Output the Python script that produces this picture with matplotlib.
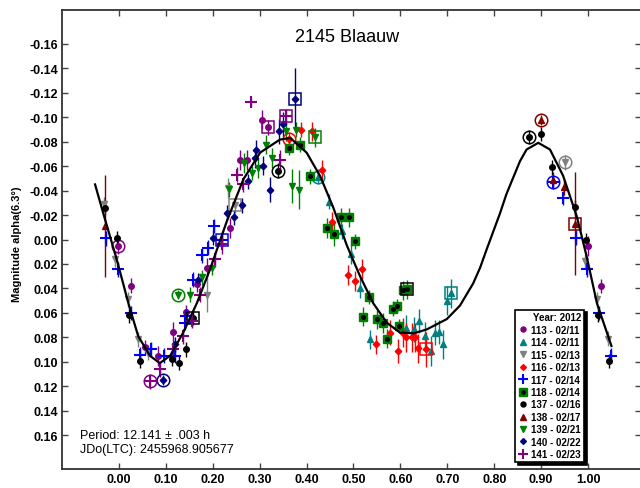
import matplotlib
matplotlib.use("Agg")
import matplotlib.pyplot as plt
from matplotlib.lines import Line2D

plt.rcParams['font.family'] = ['Liberation Sans', 'DejaVu Sans']
plt.rcParams['axes.unicode_minus'] = False

# fitted lightcurve
curve_phase = [-0.051, -0.034, -0.005, 0.020, 0.041, 0.066, 0.087, 0.109, 0.137, 0.166,
               0.194, 0.230, 0.265, 0.301, 0.343, 0.365, 0.400, 0.429, 0.457, 0.486,
               0.514, 0.542, 0.571, 0.599, 0.628, 0.656, 0.699, 0.727, 0.755, 0.770,
               0.784, 0.812, 0.826, 0.841, 0.855, 0.869, 0.894, 0.919, 0.947, 0.976,
               0.997, 1.019, 1.050]
curve_mag = [-0.045, -0.022, 0.016, 0.052, 0.079, 0.095, 0.101, 0.095, 0.076, 0.052,
             0.0245, -0.015, -0.049, -0.071, -0.0816, -0.083, -0.071, -0.0517, -0.026, 0.005,
             0.030, 0.052, 0.068, 0.076, 0.0767, 0.0735, 0.065, 0.054, 0.036, 0.023,
             0.008, -0.021, -0.037, -0.051, -0.064, -0.0735, -0.079, -0.0735, -0.052, -0.019,
             0.0136, 0.052, 0.087]

# sessions: (phase, mag, error, highlight) ; highlight 'o' = ringed, 's' = boxed
s113 = [(-0.0015, 0.0055, 0.006, 'o'), (0.025, 0.0376, 0.006, ''), (0.055, 0.088, 0.006, ''),
        (0.084, 0.095, 0.008, ''), (0.116, 0.0757, 0.008, ''), (0.142, 0.0593, 0.006, ''),
        (0.166, 0.0367, 0.006, ''), (0.187, 0.023, 0.008, ''), (0.2367, -0.0095, 0.008, ''),
        (0.258, -0.065, 0.008, ''), (0.272, -0.065, 0.008, ''), (0.304, -0.098, 0.008, ''),
        (0.318, -0.0917, 0.006, 's'), (1.0006, 0.0054, 0.008, ''), (1.027, 0.038, 0.006, '')]
s114 = [(0.425, -0.0512, 0.006, 'o'), (0.4485, -0.031, 0.006, ''), (0.4748, -0.0068, 0.006, ''),
        (0.494, 0.012, 0.008, ''), (0.514, 0.0394, 0.008, ''), (0.535, 0.0816, 0.008, ''),
        (0.613, 0.072, 0.010, ''), (0.628, 0.0735, 0.010, ''), (0.640, 0.0667, 0.010, ''),
        (0.652, 0.079, 0.012, ''), (0.665, 0.091, 0.012, ''), (0.674, 0.076, 0.010, ''),
        (0.683, 0.0754, 0.010, ''), (0.690, 0.0857, 0.012, ''), (0.6985, 0.050, 0.012, ''),
        (0.707, 0.044, 0.012, 's')]
s115 = [(-0.033, -0.0286, 0.006, ''), (-0.0085, 0.0163, 0.006, ''), (0.020, 0.049, 0.006, ''),
        (0.041, 0.0816, 0.006, ''), (0.0625, 0.0925, 0.006, ''), (0.187, 0.045, 0.014, ''),
        (0.233, -0.042, 0.008, ''), (0.247, -0.028, 0.006, 's'), (0.951, -0.063, 0.006, 'o'),
        (0.9936, 0.0177, 0.006, ''), (1.0186, 0.049, 0.006, ''), (1.0433, 0.081, 0.006, '')]
s116 = [(0.363, -0.0822, 0.006, 'o'), (0.388, -0.0898, 0.006, ''), (0.412, -0.0884, 0.008, ''),
        (0.4335, -0.057, 0.008, ''), (0.4535, -0.0144, 0.008, ''), (0.489, 0.029, 0.008, ''),
        (0.503, 0.034, 0.008, ''), (0.5174, 0.024, 0.008, ''), (0.549, 0.0857, 0.008, ''),
        (0.578, 0.076, 0.010, ''), (0.594, 0.091, 0.010, ''), (0.606, 0.076, 0.012, ''),
        (0.613, 0.080, 0.012, ''), (0.624, 0.080, 0.012, ''), (0.631, 0.080, 0.012, ''),
        (0.638, 0.089, 0.012, ''), (0.6546, 0.0898, 0.014, 's')]
s117 = [(-0.028, -0.001, 0.006, ''), (-0.0015, 0.0245, 0.006, ''), (0.0256, 0.060, 0.006, ''),
        (0.045, 0.094, 0.006, ''), (0.0676, 0.0898, 0.006, ''), (0.096, 0.095, 0.006, ''),
        (0.119, 0.095, 0.006, ''), (0.1407, 0.068, 0.006, ''), (0.143, 0.0626, 0.006, ''),
        (0.1585, 0.0327, 0.006, ''), (0.176, 0.013, 0.006, ''), (0.190, 0.0068, 0.006, ''),
        (0.2026, -0.011, 0.006, ''), (0.219, 0.000, 0.006, 's'), (0.9247, -0.047, 0.006, 'o'),
        (0.947, -0.034, 0.006, ''), (0.9738, -0.0014, 0.006, ''), (0.9985, 0.0245, 0.006, ''),
        (1.0235, 0.060, 0.006, ''), (1.048, 0.095, 0.006, '')]
s118 = [(0.363, -0.0749, 0.006, ''), (0.387, -0.0776, 0.006, ''), (0.407, -0.0517, 0.006, ''),
        (0.4428, -0.0095, 0.008, ''), (0.4584, -0.0046, 0.010, ''), (0.4727, -0.018, 0.008, ''),
        (0.4904, -0.018, 0.008, ''), (0.503, 0.0014, 0.006, ''), (0.5196, 0.063, 0.008, ''),
        (0.5338, 0.047, 0.006, ''), (0.5508, 0.0653, 0.008, ''), (0.562, 0.068, 0.008, ''),
        (0.572, 0.081, 0.008, ''), (0.5834, 0.0566, 0.006, ''), (0.592, 0.0544, 0.006, ''),
        (0.5977, 0.0707, 0.006, ''), (0.606, 0.0416, 0.008, ''), (0.6147, 0.0408, 0.008, 's')]
s137 = [(-0.030, -0.026, 0.006, ''), (-0.005, -0.001, 0.006, ''), (0.022, 0.062, 0.006, ''),
        (0.045, 0.099, 0.006, ''), (0.112, 0.0974, 0.006, ''), (0.128, 0.1007, 0.006, ''),
        (0.142, 0.0898, 0.006, ''), (0.1585, 0.064, 0.006, 's'), (0.3397, -0.0563, 0.006, 'o'),
        (0.875, -0.0838, 0.006, 'o'), (0.899, -0.0863, 0.006, ''), (0.9226, -0.059, 0.006, ''),
        (0.972, -0.0264, 0.006, ''), (0.9957, 0.0006, 0.006, ''), (1.0206, 0.0615, 0.006, ''),
        (1.0448, 0.0993, 0.006, '')]
s138 = [(-0.030, -0.011, 0.042, ''), (0.899, -0.0974, 0.004, 'o'), (0.9247, -0.049, 0.006, ''),
        (0.9488, -0.0427, 0.006, ''), (0.972, -0.0128, 0.042, 's')]
s139 = [(0.1265, 0.045, 0.004, 'o'), (0.151, 0.045, 0.006, ''), (0.176, 0.031, 0.006, ''),
        (0.1975, 0.023, 0.006, ''), (0.235, -0.041, 0.006, ''), (0.267, -0.0626, 0.008, ''),
        (0.283, -0.0544, 0.006, ''), (0.297, -0.0585, 0.008, ''), (0.313, -0.0776, 0.008, ''),
        (0.3256, -0.0667, 0.008, ''), (0.356, -0.0884, 0.008, ''), (0.368, -0.0435, 0.014, ''),
        (0.377, -0.0898, 0.006, ''), (0.3845, -0.0408, 0.016, ''), (0.418, -0.0835, 0.008, 's')]
s140 = [(0.0945, 0.115, 0.004, 'o'), (0.119, 0.0857, 0.006, ''), (0.168, 0.033, 0.006, ''),
        (0.201, -0.0014, 0.006, ''), (0.2296, -0.022, 0.006, ''), (0.246, -0.018, 0.006, ''),
        (0.2616, -0.028, 0.006, ''), (0.276, -0.0476, 0.006, ''), (0.290, -0.0667, 0.008, ''),
        (0.2915, -0.0735, 0.008, ''), (0.3077, -0.0604, 0.008, ''), (0.322, -0.0408, 0.010, ''),
        (0.341, -0.0884, 0.010, ''), (0.349, -0.094, 0.010, ''), (0.375, -0.1149, 0.025, 's')]
s141 = [(0.066, 0.116, 0.006, 'o'), (0.087, 0.106, 0.006, ''), (0.116, 0.0898, 0.006, ''),
        (0.137, 0.079, 0.006, ''), (0.155, 0.0667, 0.006, ''), (0.173, 0.045, 0.006, ''),
        (0.2047, 0.0163, 0.006, ''), (0.219, 0.004, 0.008, ''), (0.251, -0.053, 0.006, ''),
        (0.265, -0.045, 0.006, ''), (0.281, -0.112, 0.004, ''), (0.343, -0.065, 0.008, ''),
        (0.356, -0.1007, 0.006, 's')]

labels = ['113 - 02/11', '114 - 02/11', '115 - 02/13', '116 - 02/13', '117 - 02/14',
          '118 - 02/14', '137 - 02/16', '138 - 02/17', '139 - 02/21', '140 - 02/22',
          '141 - 02/23']
sessions = [s113, s114, s115, s116, s117, s118, s137, s138, s139, s140, s141]
colors = ['#800080', '#008080', '#808080', '#FF0000', '#0000FF', '#008000',
          '#000000', '#800000', '#008000', '#000080', '#800080']
markers = ['o', '^', 'v', 'D', '+', 's', 'o', '^', 'v', 'D', '+']
sizes = [4, 4.5, 4.5, 3.3, 8, 6, 4, 4.5, 4.5, 3.3, 8]

fig = plt.figure(figsize=(6.4, 4.89), dpi=100)
ax = fig.add_axes([62 / 640, 19 / 489, 579 / 640, 459 / 489])

ax.plot(curve_phase, curve_mag, color='black', lw=1.6, zorder=5)

handles = []
for data, lab, c, m, ms in zip(sessions, labels, colors, markers, sizes):
    xs = [d[0] for d in data]
    ys = [d[1] for d in data]
    es = [d[2] for d in data]
    ax.errorbar(xs, ys, yerr=es, fmt='none', ecolor=c, elinewidth=1.0, capsize=0, zorder=3)
    if m == '+':
        h = ax.plot(xs, ys, ls='none', marker=m, ms=ms, mew=1.5, color=c, zorder=4)[0]
    else:
        h = ax.plot(xs, ys, ls='none', marker=m, ms=ms, mec=c, mfc=c, zorder=4)[0]
    if lab.startswith('118'):
        ax.plot(xs, ys, ls='none', marker='o', ms=2.6, color='black', zorder=4)
        dot = Line2D([], [], ls='none', marker='o', ms=2.6, color='black')
        handles.append((h, dot))
    else:
        handles.append(h)
    ring_col = 'black' if lab.startswith('118') else c
    for x, y, e, hl in data:
        if hl:
            ax.plot([x], [y], ls='none', marker=hl, ms=9, mfc='none', mec=ring_col,
                    mew=1.1, zorder=4)

ax.set_xlim(-0.1215, 1.113)
ax.set_ylim(0.1875, -0.1875)
xt = [i / 10 for i in range(11)]
ax.set_xticks(xt)
ax.set_xticklabels(['%.2f' % v for v in xt])
yt = [-0.16 + 0.02 * i for i in range(17)]
ax.set_yticks(yt)
ax.set_yticklabels(['%.2f' % round(v, 2) for v in yt])
ax.tick_params(direction='in', length=4, width=1, color='#444444',
               top=True, right=True, labelsize=9, pad=3)
for t in ax.get_xticklabels() + ax.get_yticklabels():
    t.set_fontweight('bold')
for s in ax.spines.values():
    s.set_linewidth(1.3)
    s.set_color('#333333')

fig.text(17 / 640, 0.5, 'Magnitude alpha(6.3°)', rotation=90, ha='center', va='center',
         fontsize=8, fontweight='bold')
ax.text(0.492, 0.943, '2145 Blaauw', transform=ax.transAxes, ha='center', va='center',
        fontsize=13)
ax.text(0.031, 0.074, 'Period: 12.141 ± .003 h', transform=ax.transAxes, ha='left',
        va='center', fontsize=9)
ax.text(0.031, 0.044, 'JDo(LTC): 2455968.905677', transform=ax.transAxes, ha='left',
        va='center', fontsize=9)

leg = ax.legend(handles, labels, loc='lower left', bbox_to_anchor=(0.782, 0.015),
                borderaxespad=0, title='Year: 2012', alignment='right',
                title_fontproperties={'weight': 'bold', 'size': 7},
                prop={'weight': 'bold', 'size': 7}, fancybox=False, framealpha=1,
                edgecolor='black', handlelength=1.0, handletextpad=0.4,
                labelspacing=0.25, borderpad=0.3, markerscale=0.9,
                shadow={'color': 'black', 'alpha': 1})
leg.get_frame().set_linewidth(1.2)
leg.set_zorder(10)

fig.savefig('out.png', dpi=100)
